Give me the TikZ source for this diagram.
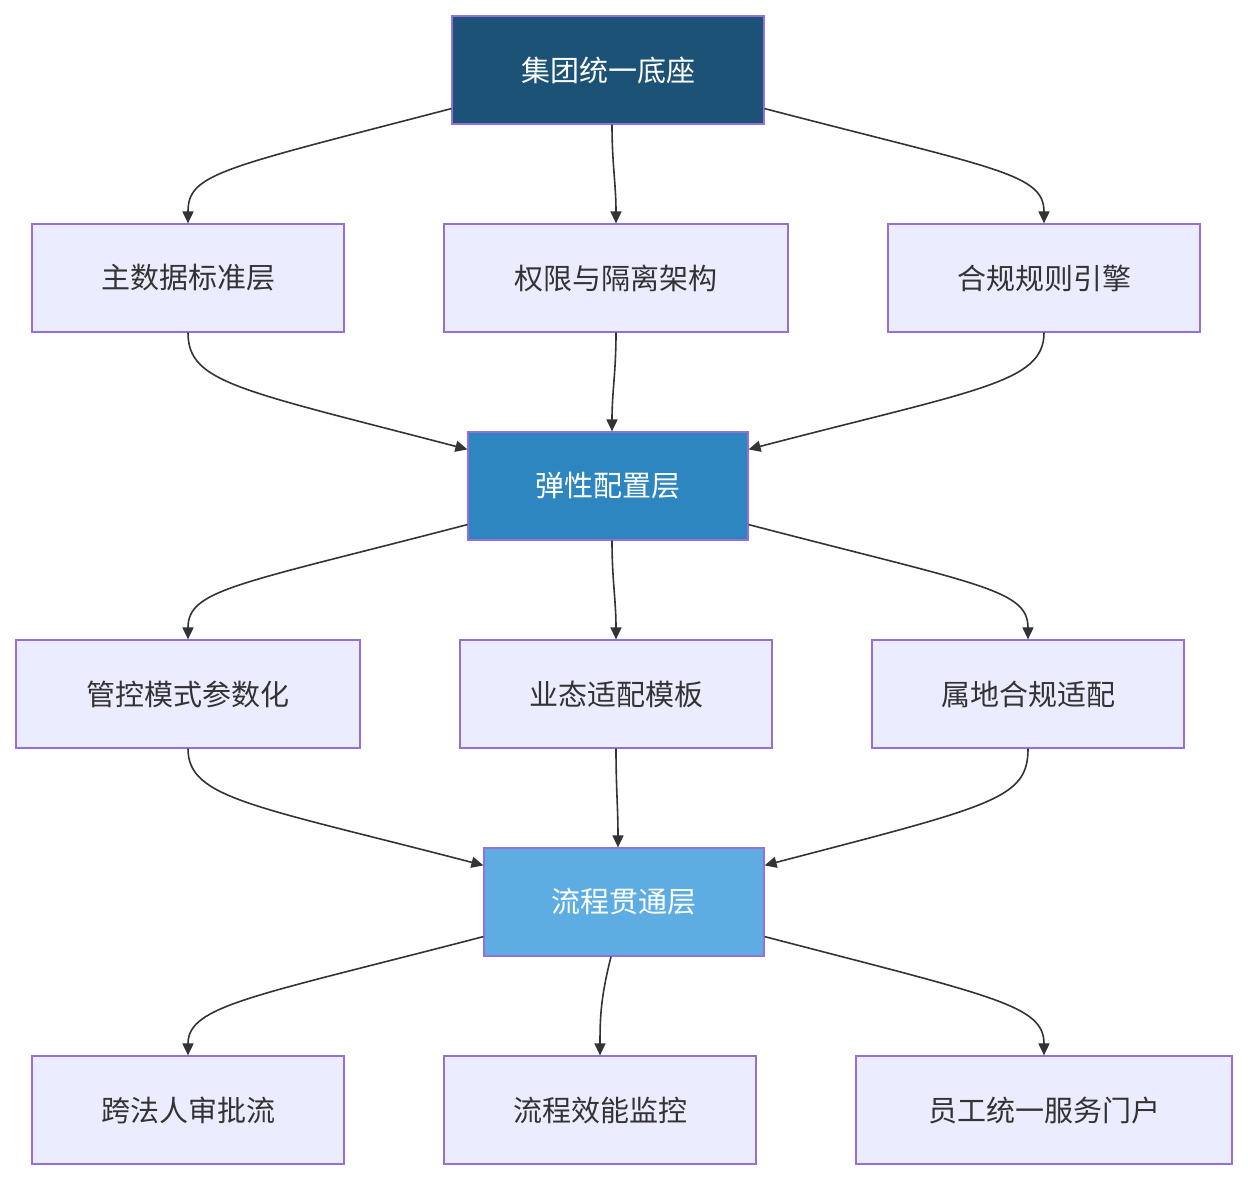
\documentclass[tikz,border=0pt]{standalone}
\usepackage{fontspec}
\newfontfamily\cjk{Noto Sans CJK SC}
\usetikzlibrary{arrows.meta}
\definecolor{boxfill}{HTML}{ECECFF}
\definecolor{boxline}{HTML}{9370DB}
\definecolor{darkblue}{HTML}{1B5276}
\definecolor{midblue}{HTML}{2E86C1}
\definecolor{lightblue}{HTML}{5DADE2}
\definecolor{txt}{HTML}{333333}
\tikzset{
  box/.style={draw=boxline, line width=1.2pt, fill=boxfill, text=txt, minimum height=108pt,
    inner sep=0pt, font=\cjk\fontsize{29}{34}\selectfont},
  layer/.style={box, text=white},
  arr/.style={draw=txt, line width=1.6pt, -{Triangle[length=12pt,width=11pt]}},
}
\begin{document}
\begin{tikzpicture}[x=1pt,y=1pt]
            \useasboundingbox (0,0) rectangle (1248,1180);
            % layers
            \node[layer, fill=darkblue, minimum width=312pt] (base) at (608,1110) {集团统一底座};
            \node[layer, fill=midblue, minimum width=280pt] (conf) at (608,694) {弹性配置层};
            \node[layer, fill=lightblue, minimum width=280pt] (flow) at (624,278) {流程贯通层};

            \node[box, minimum width=312pt] (mdm) at (188,902) {主数据标准层};
            \node[box, minimum width=344pt] (perm) at (616,902) {权限与隔离架构};
            \node[box, minimum width=312pt] (rule) at (1044,902) {合规规则引擎};

            \node[box, minimum width=344pt] (mode) at (188,486) {管控模式参数化};
            \node[box, minimum width=312pt] (tmpl) at (616,486) {业态适配模板};
            \node[box, minimum width=312pt] (local) at (1028,486) {属地合规适配};

            \node[box, minimum width=312pt] (appr) at (188,70) {跨法人审批流};
            \node[box, minimum width=312pt] (mon) at (600,70) {流程效能监控};
            \node[box, minimum width=376pt] (portal) at (1044,70) {员工统一服务门户};

            % base -> row 2
            \draw[arr] ([yshift=16pt]base.south west) .. controls +(-230,-60) and +(0,50) .. (mdm.north);
            \draw[arr] ([xshift=4pt]base.south) .. controls +(0,-40) and +(0,40) .. (perm.north);
            \draw[arr] ([yshift=16pt]base.south east) .. controls +(230,-60) and +(0,50) .. (rule.north);
            % row 2 -> conf
            \draw[arr] (mdm.south) .. controls +(0,-50) and +(-230,60) .. ([yshift=-18pt]conf.north west);
            \draw[arr] (perm.south) .. controls +(0,-40) and +(0,40) .. ([xshift=4pt]conf.north);
            \draw[arr] (rule.south) .. controls +(0,-50) and +(230,60) .. ([yshift=-18pt]conf.north east);
            % conf -> row 4
            \draw[arr] ([yshift=16pt]conf.south west) .. controls +(-230,-60) and +(0,50) .. (mode.north);
            \draw[arr] ([xshift=4pt]conf.south) .. controls +(0,-40) and +(0,40) .. (tmpl.north);
            \draw[arr] ([yshift=16pt]conf.south east) .. controls +(230,-60) and +(0,50) .. (local.north);
            % row 4 -> flow
            \draw[arr] (mode.south) .. controls +(0,-50) and +(-230,60) .. ([yshift=-18pt]flow.north west);
            \draw[arr] (tmpl.south) .. controls +(0,-40) and +(0,40) .. ([xshift=-6pt]flow.north);
            \draw[arr] (local.south) .. controls +(0,-50) and +(230,60) .. ([yshift=-18pt]flow.north east);
            % flow -> row 6
            \draw[arr] ([yshift=20pt]flow.south west) .. controls +(-230,-60) and +(0,50) .. (appr.north);
            \draw[arr] ([xshift=-13pt]flow.south) .. controls +(-10,-40) and +(0,40) .. (mon.north);
            \draw[arr] ([yshift=20pt]flow.south east) .. controls +(230,-60) and +(0,50) .. (portal.north);
\end{tikzpicture}
\end{document}
